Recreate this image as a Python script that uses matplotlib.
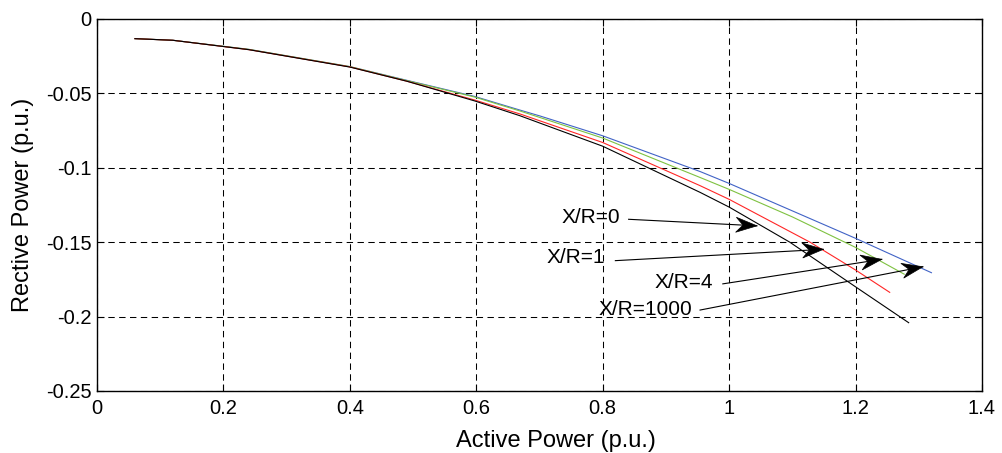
import matplotlib
matplotlib.use("Agg")
import matplotlib.pyplot as plt
import numpy as np
from matplotlib.patches import Polygon

plt.rcParams['font.family'] = ['Liberation Sans', 'DejaVu Sans']
plt.rcParams['lines.scale_dashes'] = False

# P-Q capability curves for several X/R ratios (p.u.)
p_xr0 = [0.06, 0.12, 0.24, 0.40, 0.49, 0.597, 0.669, 0.701, 0.80, 0.954, 1.00, 1.20, 1.32]
q_xr0 = [-0.0132, -0.0143, -0.0204, -0.0320, -0.0412, -0.0520, -0.0612, -0.0652, -0.0785,
         -0.1025, -0.1105, -0.1474, -0.1705]

p_xr1 = [0.06, 0.12, 0.24, 0.40, 0.49, 0.597, 0.669, 0.80, 0.954, 1.00, 1.10, 1.20, 1.277]
q_xr1 = [-0.0132, -0.0143, -0.0204, -0.0320, -0.0414, -0.0524, -0.0618, -0.0800,
         -0.1065, -0.1145, -0.1330, -0.1535, -0.1715]

p_xr4 = [0.06, 0.12, 0.24, 0.40, 0.49, 0.597, 0.669, 0.80, 0.954, 1.00, 1.128, 1.20, 1.254]
q_xr4 = [-0.0132, -0.0143, -0.0206, -0.0322, -0.0418, -0.0544, -0.0638, -0.0830,
         -0.1120, -0.1212, -0.1500, -0.1687, -0.1837]

p_xr1000 = [0.06, 0.12, 0.24, 0.40, 0.49, 0.597, 0.669, 0.80, 0.954, 1.00, 1.096, 1.20, 1.284]
q_xr1000 = [-0.0132, -0.0143, -0.0206, -0.0323, -0.0418, -0.0550, -0.0650, -0.0855,
            -0.1165, -0.1264, -0.1500, -0.1800, -0.2041]

curve_colors = ['#4163c6', '#7fc241', '#ff2626', '#000000']

# annotation labels, their anchor points and arrow tips
ann_labels = ['X/R=0', 'X/R=1', 'X/R=4', 'X/R=1000']
ann_text_xy = [(0.7816, -0.1337), (0.757, -0.1606), (0.928, -0.1772), (0.868, -0.1949)]
ann_tail_xy = [(0.841, -0.1346), (0.820, -0.1624), (0.990, -0.1780), (0.954, -0.1956)]
ann_tip_xy = [(1.044, -0.1390), (1.149, -0.1548), (1.2415, -0.1615), (1.3065, -0.1665)]

x_ticks = [0, 0.2, 0.4, 0.6, 0.8, 1.0, 1.2, 1.4]
x_ticklabels = ['0', '0.2', '0.4', '0.6', '0.8', '1', '1.2', '1.4']
y_ticks = [0, -0.05, -0.1, -0.15, -0.2, -0.25]
y_ticklabels = ['0', '-0.05', '-0.1', '-0.15', '-0.2', '-0.25']

W, H = 1002, 453
fig = plt.figure(figsize=(W / 100, H / 100), dpi=100)
ax = fig.add_axes([97 / W, 1 - 391 / H, 885 / W, 372 / H])

for p, q, c in zip([p_xr0, p_xr1, p_xr4, p_xr1000],
                   [q_xr0, q_xr1, q_xr4, q_xr1000], curve_colors):
    ax.plot(p, q, color=c, lw=0.8, zorder=3)

ax.set_xlim(0, 1.4)
ax.set_ylim(-0.25, 0)
ax.set_xticks(x_ticks)
ax.set_xticklabels(x_ticklabels)
ax.set_yticks(y_ticks)
ax.set_yticklabels(y_ticklabels)
ax.tick_params(direction='in', length=5, width=0.8, top=True, right=True,
               labelsize=14.5, colors='black')
ax.tick_params(axis='x', pad=6)
ax.tick_params(axis='y', pad=4)
for s in ax.spines.values():
    s.set_linewidth(1.0)
    s.set_color('black')

ax.grid(True, color='black', lw=0.75, linestyle=(0, (4.6, 3.2)), zorder=1)
ax.set_axisbelow(True)

ax.set_xlabel('Active Power (p.u.)', fontsize=17)
ax.set_ylabel('Rective Power (p.u.)', fontsize=17)
ax.xaxis.set_label_coords((556 - 97) / 885, -0.105)
ax.yaxis.set_label_coords(-0.071, 0.5)

fig.canvas.draw()
to_px = ax.transData
to_data = ax.transData.inverted()


def notched_head(tip, tail, length=21, half_w=7.5, notch=7):
    """Filled arrow head with a notched back, built in pixel space."""
    t = np.array(to_px.transform(tip))
    b = np.array(to_px.transform(tail))
    d = t - b
    d /= np.hypot(*d)
    n = np.array([-d[1], d[0]])
    base = t - d * length
    pts = [t, base + n * half_w, t - d * (length - notch), base - n * half_w]
    return to_data.transform(np.array(pts))


for label, txy, a0, a1 in zip(ann_labels, ann_text_xy, ann_tail_xy, ann_tip_xy):
    ax.text(txy[0], txy[1], label, fontsize=15, ha='center', va='center', zorder=5)
    ax.plot([a0[0], a1[0]], [a0[1], a1[1]], color='black', lw=0.8, zorder=4)
    ax.add_patch(Polygon(notched_head(a1, a0), closed=True, facecolor='black',
                         edgecolor='black', lw=0.5, zorder=4))

fig.savefig('out.png', dpi=100)
